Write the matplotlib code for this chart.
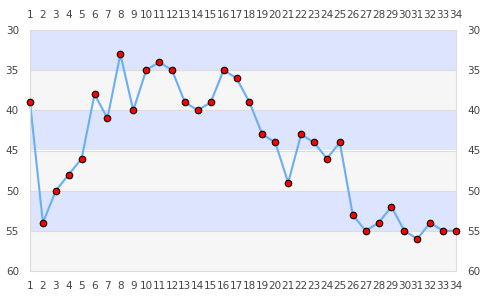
#!/usr/bin/env python3
import matplotlib; matplotlib.use('Agg')  # noqa
import matplotlib.pyplot as plt

# x positions and values
positions = list(range(1, 35))
values = [39, 54, 50, 48, 46, 38, 41, 33, 40, 35, 34, 35, 39, 40, 39, 35, 36,
          39, 43, 44, 49, 43, 44, 46, 44, 53, 55, 54, 52, 55, 56, 54, 55, 55]
y_ticks = [30, 35, 40, 45, 50, 55, 60]

band_blue = '#dde4fd'
band_gray = '#f6f6f6'
grid_col = '#dcdcdc'
text_col = '#444444'

fig = plt.figure(figsize=(4.85, 3.0), dpi=100)
ax = fig.add_axes([30 / 485, 29 / 300, 426 / 485, 241 / 300])

for i in range(len(y_ticks) - 1):
    ax.axhspan(y_ticks[i], y_ticks[i + 1],
               color=band_blue if i % 2 == 0 else band_gray, lw=0, zorder=0)
for t in y_ticks[1:-1]:
    ax.axhline(t, color=grid_col, lw=0.8, zorder=1)

ax.plot(positions, values, color='#6aaef5', lw=1.5, zorder=2, clip_on=False)
ax.plot(positions, values, ls='none', marker='o', ms=4.7, mfc='#ff0000',
        mec='#000000', mew=0.8, zorder=3, clip_on=False)

ax.set_xlim(1, 34)
ax.set_ylim(60, 30)
ax.set_xticks(positions)
ax.set_xticklabels([str(p) for p in positions])
ax.set_yticks(y_ticks)

ax.tick_params(axis='x', which='both', length=0, pad=7, labelsize=7.5,
               colors=text_col, top=True, labeltop=True)
ax.tick_params(axis='y', which='both', length=0, pad=8, labelsize=7.5,
               colors=text_col, right=True, labelright=True)
for s in ax.spines.values():
    s.set_color(grid_col)
    s.set_linewidth(0.8)

fig.savefig('out.png', dpi=100)
